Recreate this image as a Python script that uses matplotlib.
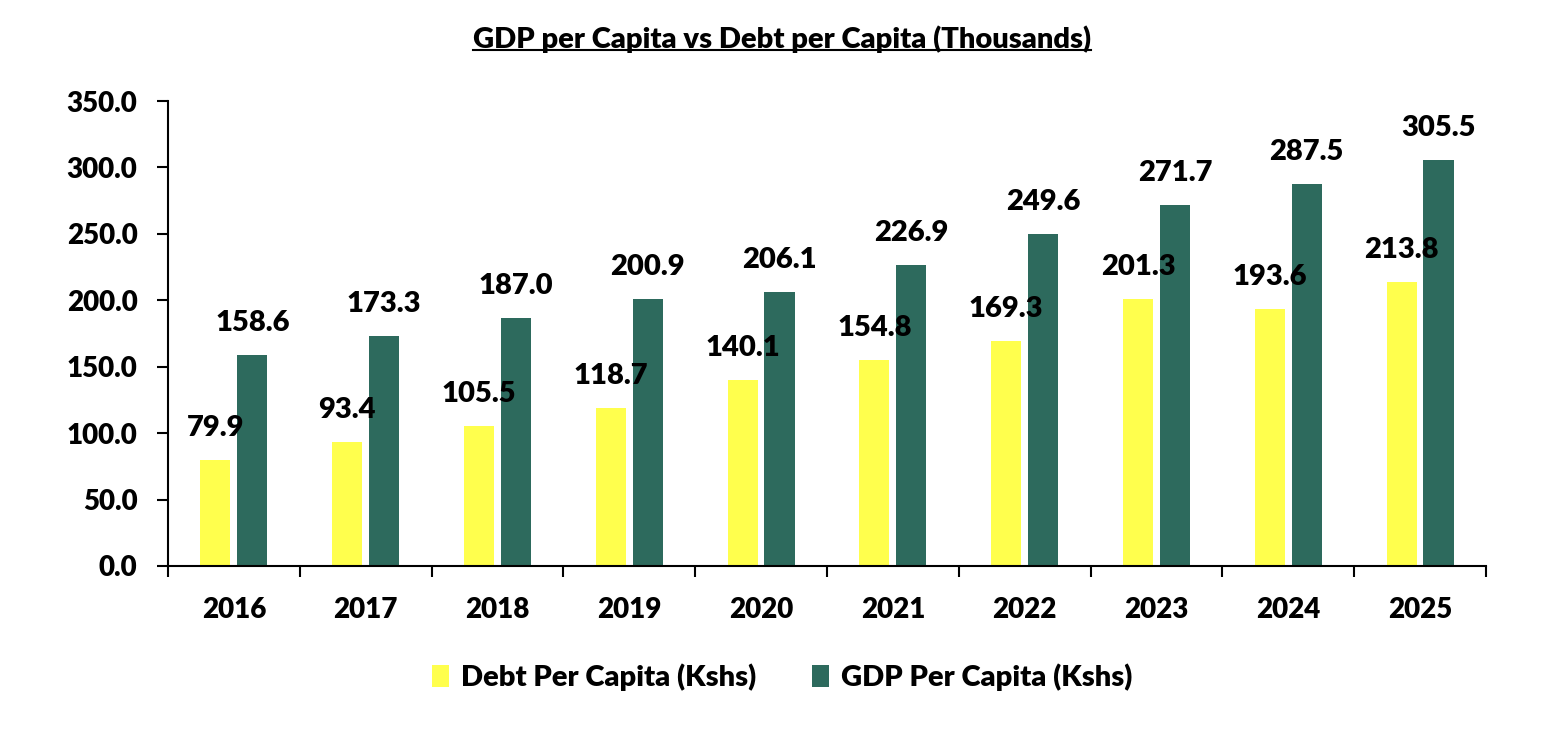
import numpy as np
import matplotlib.pyplot as plt

plt.rcParams['font.family'] = ['Lato', 'DejaVu Sans']
plt.rcParams['font.weight'] = 'heavy'

years = ['2016', '2017', '2018', '2019', '2020', '2021', '2022', '2023', '2024', '2025']
debt_pc = [79.9, 93.4, 105.5, 118.7, 140.1, 154.8, 169.3, 201.3, 193.6, 213.8]
gdp_pc = [158.6, 173.3, 187.0, 200.9, 206.1, 226.9, 249.6, 271.7, 287.5, 305.5]

yellow = '#FFFF4D'
green = '#2D6A5D'

fig = plt.figure(figsize=(15.64, 7.30), dpi=100)
ax = fig.add_axes([0.1074, 0.2247, 0.8427, 0.6369])

x = np.arange(len(years))
w = 0.228
off = 0.14
b1 = ax.bar(x - off, debt_pc, width=w, color=yellow, label='Debt Per Capita (Kshs)')
b2 = ax.bar(x + off, gdp_pc, width=w, color=green, label='GDP Per Capita (Kshs)')

for bars, vals in ((b1, debt_pc), (b2, gdp_pc)):
    for b, v in zip(bars, vals):
        ax.annotate(f'{v:.1f}', xy=(b.get_x() + b.get_width() / 2, v),
                    xytext=(0, 23), textcoords='offset points',
                    ha='center', va='center', fontsize=21, fontweight='heavy')

ax.set_xlim(-0.5, len(years) - 0.5)
ax.set_ylim(0, 350)
ax.set_yticks(np.arange(0, 351, 50))
ax.set_yticklabels([f'{t:.1f}' for t in np.arange(0, 351, 50)], fontsize=20, fontweight='heavy')
ax.set_xticks(x)
ax.set_xticklabels(years, fontsize=20, fontweight='heavy')
ax.tick_params(axis='x', which='major', length=0, pad=22)
ax.set_xticks(np.arange(-0.5, len(years), 1), minor=True)
ax.tick_params(axis='x', which='minor', length=8, width=1.5, direction='out')
ax.tick_params(axis='y', length=8, width=1.5, direction='out', pad=14)

for s in ('top', 'right'):
    ax.spines[s].set_visible(False)
for s in ('left', 'bottom'):
    ax.spines[s].set_linewidth(1.5)

# title centred on the figure, underlined
title = fig.text(0.5, 0.946, 'GDP per Capita vs Debt per Capita (Thousands)', fontsize=21,
                 fontweight='heavy', ha='center', va='center')
fig.canvas.draw()
bb = title.get_window_extent()
inv = fig.transFigure.inverted()
(x0, y0), (x1, y1) = inv.transform([(bb.x0, bb.y0), (bb.x1, bb.y1)])
fig.add_artist(plt.Line2D([x0, x1], [y0 + 0.005, y0 + 0.005], color='black', lw=1.5,
                          transform=fig.transFigure))

fig.legend(handles=[b1, b2], loc='center', bbox_to_anchor=(0.5, 1 - 677 / 730), ncol=2,
           frameon=False, prop={'size': 21, 'weight': 'heavy'}, handlelength=0.6,
           handleheight=0.8, columnspacing=1.9, handletextpad=0.4)

plt.savefig('out.png', dpi=100, facecolor='white')
